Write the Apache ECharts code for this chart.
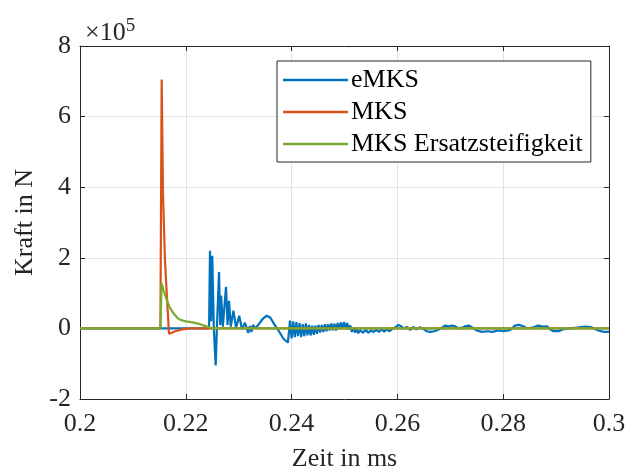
<!DOCTYPE html>
<html>
<head>
<meta charset="utf-8">
<script src="https://cdn.jsdelivr.net/npm/echarts@6/dist/echarts.min.js"></script>
<style>
  html, body { margin: 0; padding: 0; background: #fff; }
  #main { width: 625px; height: 468px; }
</style>
</head>
<body>
<div id="main"></div>
<script>
// Kraft in 1e5 N ueber Zeit in ms
var seriesNames = ['eMKS', 'MKS', 'MKS Ersatzsteifigkeit'];
var xTicks = [0.2, 0.22, 0.24, 0.26, 0.28, 0.3];
var yTicks = [-2, 0, 2, 4, 6, 8];

var emksT = [0.2, 0.2244, 0.22457, 0.2248, 0.2250, 0.2253, 0.22565, 0.2259, 0.22628, 0.2265,
  0.22668, 0.2270, 0.2276, 0.2279, 0.22817, 0.2285, 0.2290, 0.2295, 0.2301, 0.2306,
  0.2312, 0.2318, 0.2321, 0.2324, 0.2327, 0.2331, 0.2338, 0.2346, 0.2353, 0.2360,
  0.2367, 0.2376, 0.2385, 0.2393, 0.2397,
  0.2400, 0.2403, 0.2406, 0.2409, 0.2412, 0.2415, 0.2418, 0.2421, 0.2424, 0.2427,
  0.2430, 0.2433, 0.2436, 0.2439, 0.2442, 0.2445, 0.2448, 0.2451, 0.2454, 0.2457,
  0.2460, 0.2463, 0.2466, 0.2469, 0.2472, 0.2475, 0.2478, 0.2481, 0.2484, 0.2487,
  0.2490, 0.2493, 0.2496, 0.2499, 0.2502, 0.2505, 0.2508, 0.2511, 0.2514, 0.2517,
  0.2520, 0.2523, 0.2526, 0.2529,
  0.2535, 0.2540, 0.2545, 0.2550, 0.2555, 0.2560, 0.2565, 0.2570, 0.2575, 0.2580,
  0.2585, 0.2590, 0.2597, 0.2602, 0.2607, 0.2612, 0.2618, 0.2624, 0.2630, 0.2636,
  0.2642, 0.2648, 0.2655, 0.2662, 0.2670, 0.2677, 0.2684, 0.2690, 0.2697, 0.2704,
  0.2710, 0.2716, 0.2722, 0.2728, 0.2735, 0.2742, 0.2750, 0.2760, 0.2770, 0.2780,
  0.2790, 0.2800, 0.2810, 0.2816, 0.2822, 0.2830, 0.2838, 0.2845, 0.2855, 0.2866,
  0.2875, 0.2883, 0.2888, 0.2895, 0.2905, 0.2912, 0.2925, 0.2940, 0.2955, 0.2965,
  0.2972, 0.2980, 0.2990, 0.3];
var emksF = [0, 0, 2.2, 0.2, 2.06, 0.0, -1.05, 0.1, 1.6, 0.1,
  0.93, 0.05, 1.18, 0.1, 0.78, 0.05, 0.5, 0.02, 0.36, -0.02,
  0.16, -0.13, 0.07, -0.1, 0.1, 0, 0.12, 0.28, 0.36, 0.3,
  0.12, -0.08, -0.3, -0.4, 0.22,
  -0.28, 0.2, -0.25, 0.18, -0.22, 0.15, -0.25, 0.12, -0.22, 0.14,
  -0.2, 0.1, -0.2, 0.08, -0.18, 0.08, -0.15, 0.1, -0.12, 0.1,
  -0.1, 0.12, -0.08, 0.12, -0.06, 0.14, -0.05, 0.13, -0.06, 0.15,
  -0.02, 0.17, 0.0, 0.18, 0.02, 0.15, -0.02, 0.08, -0.1, 0.02,
  -0.12, -0.02, -0.14, -0.05,
  -0.12, -0.05, -0.12, -0.06, -0.1, -0.04, -0.1, -0.03, -0.09, -0.03,
  -0.08, -0.02, 0.04, 0.1, 0.06, 0.0, 0.04, -0.04, 0.04, -0.03,
  0.03, 0.0, -0.08, -0.1, -0.08, -0.04, 0.02, 0.08, 0.06, 0.08,
  0.05, 0.0, 0.02, 0.06, 0.08, 0.02, -0.06, -0.1, -0.08, -0.1,
  -0.06, -0.08, -0.06, -0.02, 0.08, 0.1, 0.06, 0.0, 0.02, 0.08,
  0.05, 0.06, -0.02, -0.08, -0.08, -0.03, 0.0, 0.02, 0.05, 0.04,
  0.0, -0.06, -0.1, -0.1];

var mksT = [0.2, 0.2152, 0.21544, 0.21569, 0.21607, 0.21682, 0.2180, 0.2195, 0.2210, 0.3];
var mksF = [0, 0, 7.05, 3.8, 1.9, -0.15, -0.08, -0.02, 0, 0];

var ersT = [0.2, 0.2152, 0.21544, 0.2158, 0.2163, 0.2170, 0.2177, 0.2184, 0.2190, 0.2200,
  0.2213, 0.2227, 0.2240, 0.2250, 0.3];
var ersF = [0, 0, 1.27, 1.08, 0.84, 0.59, 0.42, 0.3, 0.24, 0.2,
  0.17, 0.12, 0.05, 0, 0];

function pairs(t, f) {
  return t.map(function (x, i) { return [x, f[i]]; });
}

var colors = ['#0072BD', '#D95319', '#77AC30'];
var font = '"Liberation Serif", serif';
var fs = 26;
var axisCol = '#262626';

var chart = echarts.init(document.getElementById('main'));
var option = {
  animation: false,
  color: colors,
  textStyle: { fontFamily: font },
  grid: { left: 80, right: 16, top: 46, bottom: 69, outerBoundsMode: 'none', containLabel: false },
  title: {
    text: '×10{s|5}',
    left: 80, top: 12,
    textStyle: {
      fontFamily: font, fontSize: fs, fontWeight: 'normal', color: axisCol,
      rich: { s: { fontFamily: font, fontSize: 19, verticalAlign: 'top', padding: [0, 0, 14, 0], color: axisCol } }
    }
  },
  legend: {
    data: seriesNames,
    orient: 'vertical',
    left: 277, top: 61,
    icon: 'rect',
    itemWidth: 65, itemHeight: 2.5,
    itemGap: 6,
    padding: [6, 8, 5, 6],
    backgroundColor: '#fff',
    borderColor: axisCol, borderWidth: 1,
    textStyle: { fontFamily: font, fontSize: fs, color: '#000', padding: [0, 0, 0, -2] }
  },
  xAxis: [{
    type: 'value', min: 0.2, max: 0.3, interval: 0.02,
    name: 'Zeit in ms', nameLocation: 'middle', nameGap: 47,
    nameTextStyle: { fontFamily: font, fontSize: fs, color: axisCol },
    axisLine: { onZero: false, lineStyle: { color: axisCol, width: 1 } },
    axisTick: { inside: true, length: 5, lineStyle: { color: axisCol } },
    axisLabel: { fontFamily: font, fontSize: fs, color: axisCol, margin: 12,
      formatter: function (v) { return String(parseFloat(v.toFixed(2))); } },
    splitLine: { show: true, lineStyle: { color: '#e3e3e3', width: 1 } }
  }, {
    type: 'value', position: 'top', min: 0.2, max: 0.3, interval: 0.02,
    axisLine: { onZero: false, lineStyle: { color: axisCol, width: 1 } },
    axisTick: { inside: true, length: 5, lineStyle: { color: axisCol } },
    axisLabel: { show: false }, splitLine: { show: false }
  }],
  yAxis: [{
    type: 'value', min: -2, max: 8, interval: 2,
    name: 'Kraft in N', nameLocation: 'middle', nameGap: 36, nameRotate: 90,
    nameTextStyle: { fontFamily: font, fontSize: fs, color: axisCol },
    axisLine: { show: true, onZero: false, lineStyle: { color: axisCol, width: 1 } },
    axisTick: { show: true, inside: true, length: 5, lineStyle: { color: axisCol } },
    axisLabel: { fontFamily: font, fontSize: fs, color: axisCol, margin: 9 },
    splitLine: { show: true, lineStyle: { color: '#e3e3e3', width: 1 } }
  }, {
    type: 'value', position: 'right', min: -2, max: 8, interval: 2,
    axisLine: { show: true, onZero: false, lineStyle: { color: axisCol, width: 1 } },
    axisTick: { show: true, inside: true, length: 5, lineStyle: { color: axisCol } },
    axisLabel: { show: false }, splitLine: { show: false }
  }],
  series: [
    { name: seriesNames[0], type: 'line', data: pairs(emksT, emksF), showSymbol: false, symbol: 'none',
      lineStyle: { width: 2.2 } },
    { name: seriesNames[1], type: 'line', data: pairs(mksT, mksF), showSymbol: false, symbol: 'none',
      lineStyle: { width: 2.2 } },
    { name: seriesNames[2], type: 'line', data: pairs(ersT, ersF), showSymbol: false, symbol: 'none',
      lineStyle: { width: 2.2 } }
  ]
};
chart.setOption(option);
</script>
</body>
</html>
